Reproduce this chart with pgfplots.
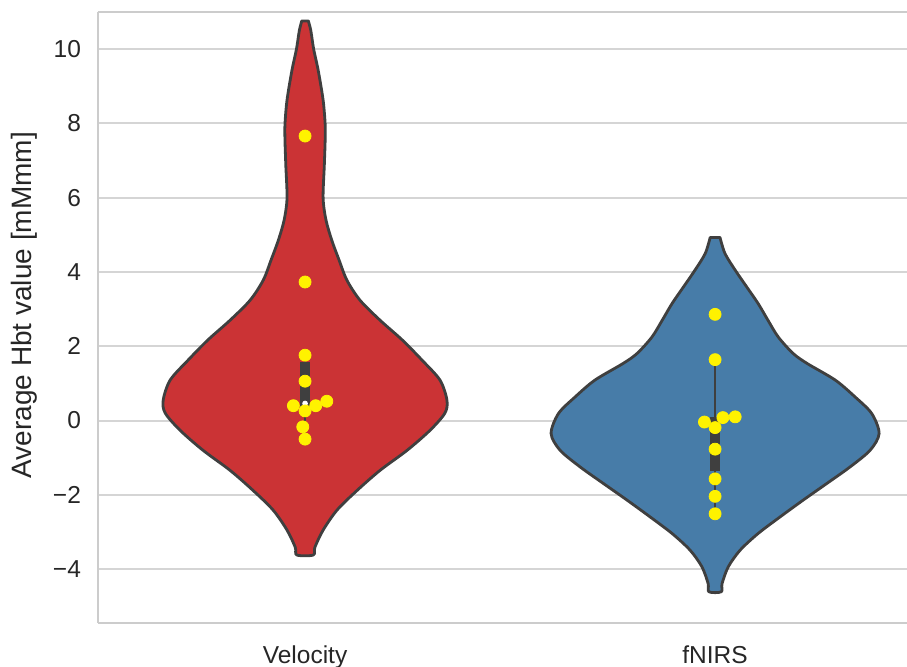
\documentclass[border=0pt]{standalone}
\usepackage{pgfplots}
\pgfplotsset{compat=1.18}
\usepackage{fontspec}
\setmainfont{Liberation Sans}
\definecolor{velred}{HTML}{CB3335}
\definecolor{fnirsblue}{HTML}{477CA8}
\definecolor{edgegray}{HTML}{3F3F3F}
\definecolor{gridgray}{HTML}{D5D5D5}
\definecolor{spinegray}{HTML}{CCCCCC}
\definecolor{textgray}{HTML}{262626}
\begin{document}
\begin{tikzpicture}
\useasboundingbox (-49pt,-22pt) rectangle (404.5pt,311.5pt);
\begin{axis}[
  scale only axis, width=404.5pt, height=305.5pt,
  xmin=-0.505, xmax=1.468, ymin=-5.45, ymax=11.0,
  axis x line*=box, axis y line*=left,
  axis line style={-, spinegray, line width=1.25pt},
  ytick={-4,-2,0,2,4,6,8,10},
  yticklabels={−4,−2,0,2,4,6,8,10},
  xtick={0,1}, xticklabels={Velocity,fNIRS},
  major tick length=0pt,
  ymajorgrids, grid style={gridgray, line width=1pt},
  tick label style={font=\fontsize{12.25}{14}\selectfont, text=textgray},
  yticklabel style={xshift=-5pt},
  xticklabel style={yshift=-8pt},
  ylabel={Average Hbt value [mMmm]},
  ylabel style={font=\fontsize{14}{16}\selectfont, text=textgray,
    at={(rel axis cs:0,0.52)}, yshift=37pt, anchor=center},
  line join=round,
]
% violin outlines (kernel density, mirrored about each category)
\addplot[fill=velred, draw=edgegray, line width=1.4pt, smooth, tension=0.5] coordinates {
(-0.008,10.76) (-0.014,10.50) (-0.021,10.00) (-0.032,9.43) (-0.044,8.63) (-0.049,7.98)
(-0.049,7.55) (-0.047,6.88) (-0.044,5.99) (-0.051,5.40) (-0.065,4.86) (-0.083,4.32)
(-0.102,3.78) (-0.134,3.24) (-0.183,2.70) (-0.237,2.17) (-0.285,1.63) (-0.329,1.09)
(-0.346,0.55) (-0.341,0.20) (-0.305,-0.26) (-0.249,-0.80) (-0.183,-1.34) (-0.127,-1.88)
(-0.078,-2.41) (-0.044,-2.95) (-0.024,-3.41) (-0.020,-3.62)
(0.020,-3.62) (0.024,-3.41) (0.044,-2.95) (0.078,-2.41) (0.127,-1.88) (0.183,-1.34)
(0.249,-0.80) (0.305,-0.26) (0.341,0.20) (0.346,0.55) (0.329,1.09) (0.285,1.63)
(0.237,2.17) (0.183,2.70) (0.134,3.24) (0.102,3.78) (0.083,4.32) (0.065,4.86)
(0.051,5.40) (0.044,5.99) (0.047,6.88) (0.049,7.55) (0.049,7.98) (0.044,8.63)
(0.032,9.43) (0.021,10.00) (0.014,10.50) (0.008,10.76)
} -- cycle;
\addplot[fill=fnirsblue, draw=edgegray, line width=1.4pt, smooth, tension=0.5] coordinates {
(0.988,4.93) (0.976,4.50) (0.951,4.05) (0.923,3.60) (0.895,3.15) (0.871,2.70)
(0.846,2.25) (0.810,1.81) (0.776,1.54) (0.707,1.09) (0.659,0.64) (0.618,0.19)
(0.600,-0.35) (0.622,-0.80) (0.671,-1.25) (0.727,-1.69) (0.785,-2.14) (0.841,-2.59)
(0.895,-3.04) (0.939,-3.49) (0.968,-3.94) (0.983,-4.39) (0.985,-4.61)
(1.015,-4.61) (1.017,-4.39) (1.032,-3.94) (1.061,-3.49) (1.105,-3.04) (1.159,-2.59)
(1.215,-2.14) (1.273,-1.69) (1.329,-1.25) (1.378,-0.80) (1.400,-0.35) (1.382,0.19)
(1.341,0.64) (1.293,1.09) (1.224,1.54) (1.190,1.81) (1.154,2.25) (1.129,2.70)
(1.105,3.15) (1.077,3.60) (1.049,4.05) (1.024,4.50) (1.012,4.93)
} -- cycle;
% inner box: whiskers, interquartile bars, medians
\addplot[edgegray, line width=1pt] coordinates {(0,-0.50) (0,1.76)};
\addplot[edgegray, line width=1pt] coordinates {(1,-2.51) (1,1.64)};
\addplot[edgegray, line width=4.7pt] coordinates {(0,0.295) (0,1.585)};
\addplot[edgegray, line width=4.7pt] coordinates {(1,-1.37) (1,0.095)};
\addplot[only marks, mark=*, mark size=1.2pt, white] coordinates {(0,0.46) (1,-0.115)};
% individual subjects (swarm)
\addplot[only marks, mark=*, mark size=3pt, color=yellow, mark options={draw=none, fill=yellow}] coordinates {
(0,7.66) (0,3.73) (0,1.76) (0,1.06) (-0.0285,0.40) (0,0.26) (0.026,0.40) (0.053,0.52)
(-0.0056,-0.17) (0,-0.50)
};
\addplot[only marks, mark=*, mark size=3pt, color=yellow, mark options={draw=none, fill=yellow}] coordinates {
(1,2.86) (1,1.64) (0.974,-0.04) (1.019,0.08) (1.049,0.10) (1,-0.19) (1,-0.77)
(1,-1.57) (1,-2.04) (1,-2.51)
};
\end{axis}
\end{tikzpicture}
\end{document}
